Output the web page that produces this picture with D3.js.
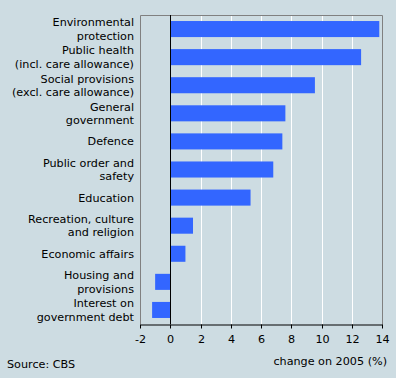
<!DOCTYPE html>
<html><head><meta charset="utf-8">
<script src="https://cdn.jsdelivr.net/npm/d3@7"></script>
<style>
html,body{margin:0;padding:0;background:#cddce2;}
svg{display:block;}
text{font-family:"DejaVu Sans",sans-serif;font-size:11.2px;fill:#000;}
</style></head>
<body>
<script>
const categories = [
  ["Environmental","protection"],
  ["Public health","(incl. care allowance)"],
  ["Social provisions","(excl. care allowance)"],
  ["General","government"],
  ["Defence"],
  ["Public order and","safety"],
  ["Education"],
  ["Recreation, culture","and religion"],
  ["Economic affairs"],
  ["Housing and","provisions"],
  ["Interest on","government debt"]
];
const values = [13.8, 12.6, 9.55, 7.6, 7.4, 6.8, 5.3, 1.5, 1.0, -1.0, -1.2];
const tickValues = [-2, 0, 2, 4, 6, 8, 10, 12, 14];
const axisTitle = "change on 2005 (%)";
const source = "Source: CBS";

const W = 396, H = 378;
const mLeft = 140, mRight = 382.3, mTop = 15, mBottom = 324;

const svg = d3.select("body").append("svg").attr("width", W).attr("height", H);
svg.append("rect").attr("width", W).attr("height", H).attr("fill", "#cddce2");

const x = d3.scaleLinear().domain([-2, 14]).range([mLeft, mRight]);
const y = d3.scaleBand().domain(d3.range(categories.length)).range([mTop, mBottom])
  .paddingInner(12/28).paddingOuter(6/28);
const px = v => Math.round(x(v)) + 0.5;

// gridlines
svg.append("g").selectAll("line").data(tickValues.filter(v => v > 0 && v < 14)).join("line")
  .attr("x1", d => px(d)).attr("x2", d => px(d)).attr("y1", mTop).attr("y2", mBottom)
  .attr("stroke", "#ffffff").attr("stroke-width", 1);

// border (left, top, right)
svg.append("path")
  .attr("d", `M${px(-2)},${mBottom}V${mTop + 0.5}H${px(14)}V${mBottom}`)
  .attr("fill", "none").attr("stroke", "#808080").attr("stroke-width", 1);

// bars
svg.append("g").selectAll("rect").data(values).join("rect")
  .attr("x", d => x(Math.min(0, d)))
  .attr("width", d => Math.abs(x(d) - x(0)))
  .attr("y", (d, i) => y(i))
  .attr("height", y.bandwidth())
  .attr("fill", "#3366ff");

// zero line
svg.append("line").attr("x1", px(0)).attr("x2", px(0)).attr("y1", mTop).attr("y2", mBottom)
  .attr("stroke", "#000").attr("stroke-width", 1);

// x axis
const ax = svg.append("g").attr("transform", `translate(0,${mBottom + 0.5})`)
  .call(d3.axisBottom(x).tickValues(tickValues).tickSize(4).tickSizeOuter(0).tickPadding(7)
    .tickFormat(d => String(d)));
ax.select(".domain").attr("stroke", "#000");
ax.selectAll(".tick").attr("transform", d => `translate(${px(d)},0)`);
ax.selectAll(".tick line").attr("stroke", "#000");
ax.selectAll(".tick text").attr("fill", "#000");

// category labels
const lab = svg.append("g").selectAll("text").data(categories).join("text")
  .attr("text-anchor", "end")
  .attr("x", 134)
  .attr("y", (d, i) => y(i) + y.bandwidth() / 2);
lab.each(function(lines) {
  const t = d3.select(this);
  const n = lines.length;
  lines.forEach((s, k) => {
    t.append("tspan").attr("x", 134)
      .attr("dy", k === 0 ? ((-(n - 1) / 2) * 13.4 + 4) : 13.4)
      .text(s);
  });
});

svg.append("text").attr("x", 387).attr("y", 364.5).attr("text-anchor", "end").text(axisTitle);
svg.append("text").attr("x", 7).attr("y", 368).text(source);
</script>
</body></html>
